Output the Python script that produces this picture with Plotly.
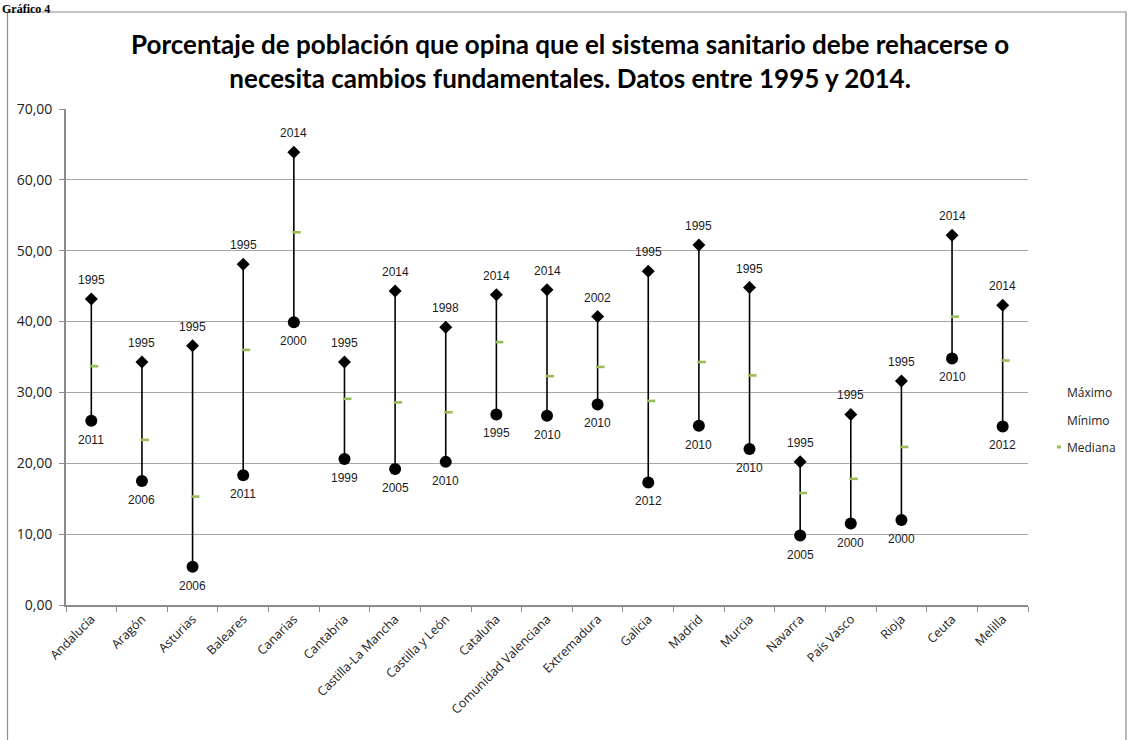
import plotly.graph_objects as go

regions = ["Andalucía", "Aragón", "Asturias", "Baleares", "Canarias", "Cantabria",
           "Castilla-La Mancha", "Castilla y León", "Cataluña", "Comunidad Valenciana",
           "Extremadura", "Galicia", "Madrid", "Murcia", "Navarra", "País Vasco",
           "Rioja", "Ceuta", "Melilla"]
max_val = [43.2, 34.3, 36.6, 48.1, 63.9, 34.3, 44.3, 39.2, 43.8, 44.5,
           40.7, 47.1, 50.8, 44.8, 20.2, 26.9, 31.6, 52.2, 42.3]
min_val = [26.0, 17.5, 5.4, 18.3, 39.9, 20.6, 19.2, 20.2, 26.9, 26.7,
           28.3, 17.3, 25.3, 22.0, 9.8, 11.5, 12.0, 34.8, 25.2]
med_val = [33.7, 23.3, 15.3, 36.0, 52.6, 29.1, 28.6, 27.2, 37.1, 32.3,
           33.6, 28.8, 34.3, 32.4, 15.8, 17.8, 22.3, 40.7, 34.5]
max_year = [1995, 1995, 1995, 1995, 2014, 1995, 2014, 1998, 2014, 2014,
            2002, 1995, 1995, 1995, 1995, 1995, 1995, 2014, 2014]
min_year = [2011, 2006, 2006, 2011, 2000, 1999, 2005, 2010, 1995, 2010,
            2010, 2012, 2010, 2010, 2005, 2000, 2000, 2010, 2012]
y_ticks = [0, 10, 20, 30, 40, 50, 60, 70]

W, H = 1128, 740
L, R, T, B = 66, 100, 109, 135
PW, PH = W - L - R, H - T - B
MED_SHIFT = 0.055  # small horizontal offset of the median dash (category units)


def px(x):
    return (x - L) / PW


def py(y):
    return (H - B - y) / PH


fig = go.Figure()

# vertical range lines
lx, ly = [], []
for r, lo, hi in zip(regions, min_val, max_val):
    lx += [r, r, None]
    ly += [lo, hi, None]
fig.add_trace(go.Scatter(x=lx, y=ly, mode="lines", line=dict(color="black", width=1.6),
                         showlegend=False, hoverinfo="skip"))

fig.add_trace(go.Scatter(x=regions, y=max_val, mode="markers", name="Máximo",
                         marker=dict(symbol="diamond", size=10, color="black"),
                         showlegend=False))
fig.add_trace(go.Scatter(x=regions, y=min_val, mode="markers", name="Mínimo",
                         marker=dict(symbol="circle", size=12, color="black"),
                         showlegend=False))
fig.add_trace(go.Scatter(x=[i + MED_SHIFT for i in range(len(regions))], y=med_val,
                         xaxis="x2", mode="markers", name="Mediana",
                         text=regions, hovertemplate="%{text}: %{y}<extra>Mediana</extra>",
                         marker=dict(symbol="line-ew", size=6,
                                     line=dict(color="#9bbb59", width=2.6)),
                         showlegend=False))

annotations = []
for r, v, yr in zip(regions, max_val, max_year):
    annotations.append(dict(x=r, y=v, xref="x", yref="y", text=str(yr), showarrow=False,
                            yshift=19, font=dict(family="Liberation Sans", size=12, color="#1a1a1a")))
for r, v, yr in zip(regions, min_val, min_year):
    annotations.append(dict(x=r, y=v, xref="x", yref="y", text=str(yr), showarrow=False,
                            yshift=-19, font=dict(family="Liberation Sans", size=12, color="#1a1a1a")))

# title
annotations.append(dict(x=px(570), y=py(61), xref="paper", yref="paper", showarrow=False,
                        xanchor="center", yanchor="middle",
                        text="<b>Porcentaje de población que opina que el sistema sanitario debe rehacerse o<br>"
                             "necesita cambios fundamentales. Datos entre 1995 y 2014.</b>",
                        font=dict(family="Lato", size=26, color="black"), align="center"))
# Gráfico 4
annotations.append(dict(x=px(0), y=py(0), xref="paper", yref="paper", showarrow=False,
                        xanchor="left", yanchor="top", text="<b>Gráfico 4</b>",
                        font=dict(family="Liberation Serif", size=12, color="black")))
# legend
for label, yy in [("Máximo", 392), ("Mínimo", 420), ("Mediana", 447)]:
    annotations.append(dict(x=px(1065), y=py(yy), xref="paper", yref="paper", showarrow=False,
                            xanchor="left", yanchor="middle", text=label,
                            font=dict(family="Open Sans", size=12, color="#222")))

shapes = [
    dict(type="rect", xref="paper", yref="paper", x0=px(7.5), x1=px(1126), y0=py(745), y1=py(12),
         line=dict(color="#8c8c8c", width=1.2), fillcolor="rgba(0,0,0,0)", layer="below"),
    dict(type="line", xref="paper", yref="paper", x0=px(1057), x1=px(1061), y0=py(447), y1=py(447),
         line=dict(color="#9bbb59", width=3)),
]

fig.update_layout(
    width=W, height=H,
    margin=dict(l=L, r=R, t=T, b=B),
    paper_bgcolor="white", plot_bgcolor="white",
    separators=",.",
    showlegend=False,
    annotations=annotations,
    shapes=shapes,
    xaxis=dict(type="category", categoryorder="array", categoryarray=regions,
               range=[-0.5, len(regions) - 0.5],
               showline=True, linecolor="#8c8c8c", linewidth=1.6,
               ticks="outside", tickson="boundaries", ticklen=5, tickcolor="#8c8c8c",
               tickangle=-45, showgrid=False,
               tickfont=dict(family="Open Sans", size=12.5, color="#222")),
    xaxis2=dict(type="linear", overlaying="x", range=[-0.5, len(regions) - 0.5],
                visible=False, showgrid=False, zeroline=False),
    yaxis=dict(range=[0, 70], tickvals=y_ticks, tickformat=".2f",
               showline=True, linecolor="#8c8c8c", linewidth=1.6,
               ticks="outside", ticklen=5, tickcolor="#8c8c8c", ticklabelstandoff=4,
               showgrid=True, gridcolor="#a6a6a6", gridwidth=1.2, zeroline=False,
               tickfont=dict(family="Open Sans", size=14, color="#222")),
)

fig.write_html("out.html", config={"displayModeBar": False},
               post_script="document.body.style.margin='0';document.body.style.overflow='hidden';")
